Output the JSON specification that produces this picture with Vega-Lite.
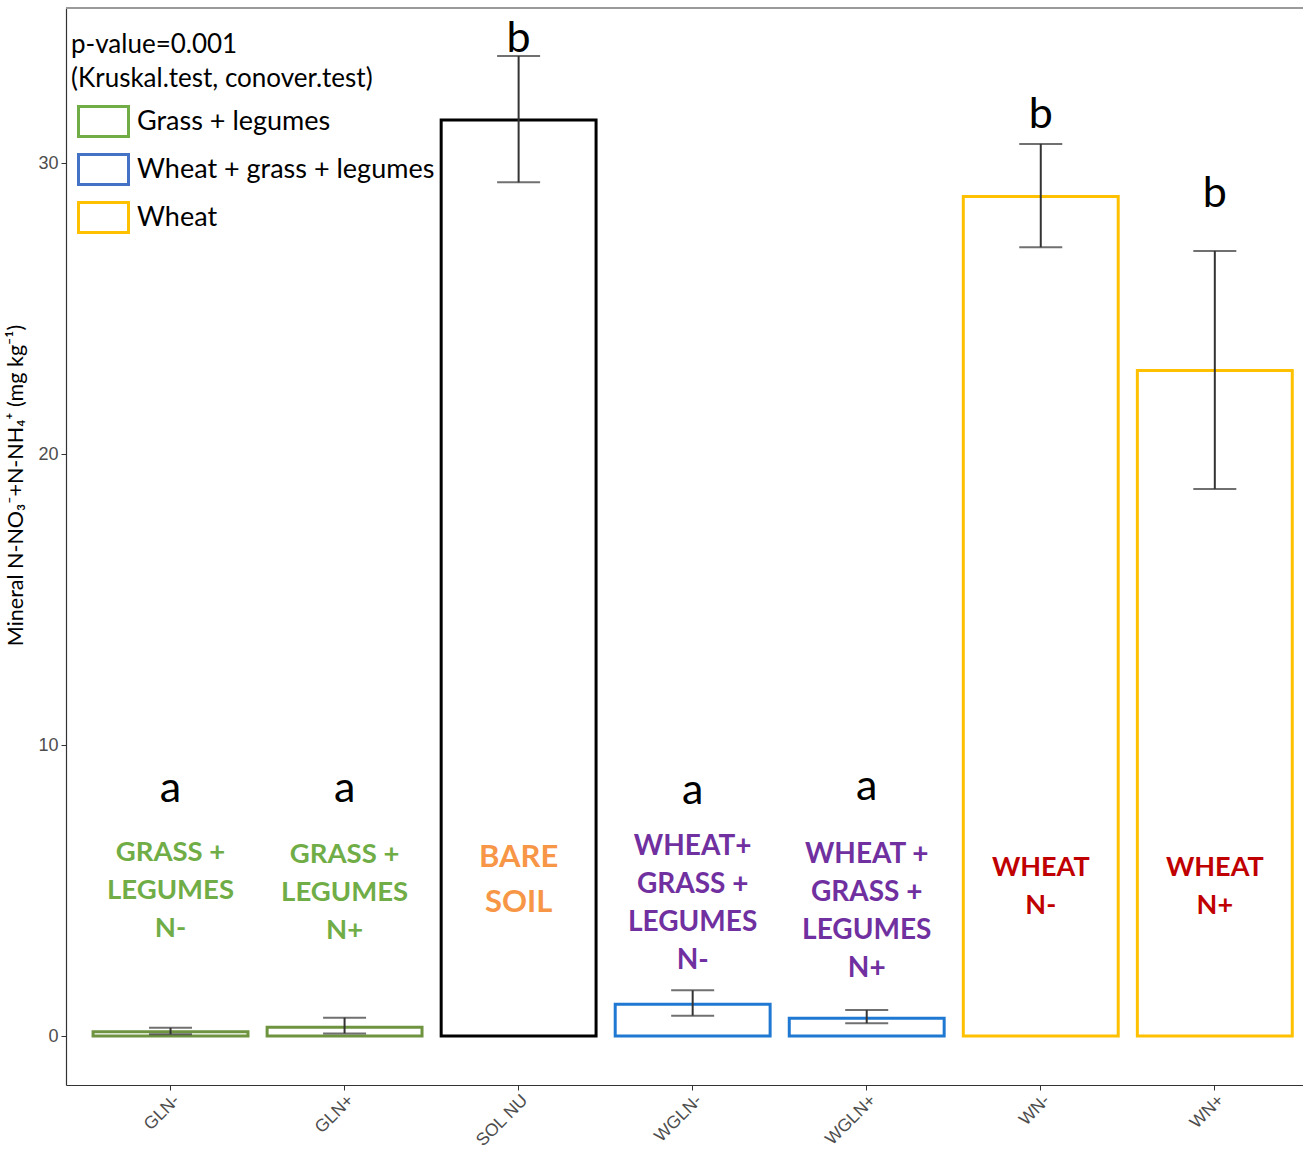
{
  "$schema": "https://vega.github.io/schema/vega-lite/v6.json",
  "width": 1237,
  "height": 1077,
  "autosize": {"type": "none"},
  "padding": {"left": 66, "top": 8, "right": 0, "bottom": 66},
  "config": {
    "view": {"stroke": null},
    "font": "Lato",
    "axisY": {
      "grid": false, "tickCount": 4,
      "labelFontSize": 18, "labelColor": "#4d4d4d", "labelFont": "Liberation Sans",
      "tickSize": 5, "tickColor": "#333333", "domainColor": "#333333", "domainWidth": 1.2, "labelPadding": 3,
      "titleFont": "Lato", "titleFontSize": 21.5, "titleFontWeight": "normal", "titleColor": "black",
      "titleY": 477, "titlePadding": 10
    },
    "axisX": {
      "labelAngle": -45, "labelAlign": "right", "labelBaseline": "top",
      "labelFontSize": 17.5, "labelColor": "#4d4d4d", "labelFont": "Liberation Sans",
      "tickSize": 5, "tickColor": "#333333", "domainColor": "#333333", "domainWidth": 1.2, "labelPadding": 1
    }
  },
  "data": {
    "values": [
      {"cat": "GLN-", "mean": 0.15, "lo": 0.06, "hi": 0.28, "letter": "a", "letterY": 8.05, "system": "GL", "sysName": "Grass + legumes", "label": "GRASS +\nLEGUMES\nN-", "labelY": 6.01},
      {"cat": "GLN+", "mean": 0.3, "lo": 0.09, "hi": 0.63, "letter": "a", "letterY": 8.05, "system": "GL", "sysName": "Grass + legumes", "label": "GRASS +\nLEGUMES\nN+", "labelY": 5.96},
      {"cat": "SOL NU", "mean": 31.48, "lo": 29.34, "hi": 33.68, "letter": "b", "letterY": 33.81, "system": "SOIL", "sysName": "Bare soil", "label": "BARE\nSOIL", "labelY": 5.82},
      {"cat": "WGLN-", "mean": 1.09, "lo": 0.7, "hi": 1.57, "letter": "a", "letterY": 7.97, "system": "WGL", "sysName": "Wheat + grass + legumes", "label": "WHEAT+\nGRASS +\nLEGUMES\nN-", "labelY": 6.22},
      {"cat": "WGLN+", "mean": 0.61, "lo": 0.44, "hi": 0.89, "letter": "a", "letterY": 8.11, "system": "WGL", "sysName": "Wheat + grass + legumes", "label": "WHEAT +\nGRASS +\nLEGUMES\nN+", "labelY": 5.94},
      {"cat": "WN-", "mean": 28.85, "lo": 27.11, "hi": 30.66, "letter": "b", "letterY": 31.2, "system": "W", "sysName": "Wheat", "label": "WHEAT\nN-", "labelY": 5.5},
      {"cat": "WN+", "mean": 22.87, "lo": 18.8, "hi": 26.98, "letter": "b", "letterY": 28.5, "system": "W", "sysName": "Wheat", "label": "WHEAT\nN+", "labelY": 5.5}
    ]
  },
  "encoding": {
    "x": {
      "field": "cat", "type": "nominal", "sort": null, "title": null,
      "scale": {"paddingInner": 0.11, "paddingOuter": 0.1086, "align": 0.716}
    }
  },
  "layer": [
    {
      "mark": {"type": "bar", "fillOpacity": 0, "strokeWidth": 3},
      "encoding": {
        "y": {
          "field": "mean", "type": "quantitative", "title": "Mineral N-NO₃⁻+N-NH₄⁺  (mg kg⁻¹)",
          "scale": {"domain": [-1.684, 35.33], "nice": false, "zero": false}
        },
        "y2": {"datum": 0},
        "stroke": {
          "field": "system", "type": "nominal",
          "scale": {"domain": ["GL", "WGL", "SOIL", "W"], "range": ["#6E9440", "#1F78D2", "#000000", "#FFC000"]},
          "legend": null
        }
      }
    },
    {
      "mark": {"type": "rule", "color": "#9a9a9a", "strokeWidth": 1.5},
      "encoding": {
        "x": {"value": 0},
        "x2": {"value": 1237},
        "y": {"datum": 35.33, "type": "quantitative", "title": "Mineral N-NO₃⁻+N-NH₄⁺  (mg kg⁻¹)", "scale": {"domain": [-1.684, 35.33], "nice": false, "zero": false}}
      }
    },
    {
      "transform": [{"filter": "datum.system != 'SOIL'"}],
      "mark": {"type": "point", "filled": false, "opacity": 0},
      "encoding": {
        "y": {"field": "mean", "type": "quantitative", "title": "Mineral N-NO₃⁻+N-NH₄⁺  (mg kg⁻¹)", "scale": {"domain": [-1.684, 35.33], "nice": false, "zero": false}},
        "color": {
          "field": "sysName", "type": "nominal",
          "scale": {"domain": ["Grass + legumes", "Wheat + grass + legumes", "Wheat"], "range": ["#70AD47", "#4472C4", "#FFC000"]},
          "legend": {
            "title": ["p-value=0.001", "(Kruskal.test, conover.test)"],
            "orient": "none", "legendX": 5, "legendY": 24,
            "titleFont": "Lato", "titleFontSize": 26, "titleFontWeight": "normal", "titleColor": "black",
            "titleLineHeight": 34, "titlePadding": 3, "titleAnchor": "start", "titleLimit": 700,
            "labelFont": "Lato", "labelFontSize": 27, "labelColor": "black", "labelOffset": 7, "labelLimit": 500,
            "symbolType": "M-1,-0.6H1V0.6H-1Z", "symbolSize": 2500, "symbolStrokeWidth": 3,
            "symbolFillColor": "transparent", "symbolOpacity": 1, "symbolOffset": 6,
            "rowPadding": -3, "padding": 0
          }
        }
      }
    },
    {
      "mark": {"type": "rule", "color": "#333333", "strokeWidth": 2},
      "encoding": {
        "y": {"field": "lo", "type": "quantitative", "title": "Mineral N-NO₃⁻+N-NH₄⁺  (mg kg⁻¹)", "scale": {"domain": [-1.684, 35.33], "nice": false, "zero": false}},
        "y2": {"field": "hi"}
      }
    },
    {
      "mark": {"type": "tick", "color": "#333333", "size": 43, "thickness": 2},
      "encoding": {
        "y": {"field": "lo", "type": "quantitative", "title": "Mineral N-NO₃⁻+N-NH₄⁺  (mg kg⁻¹)", "scale": {"domain": [-1.684, 35.33], "nice": false, "zero": false}}
      }
    },
    {
      "mark": {"type": "tick", "color": "#333333", "size": 43, "thickness": 2},
      "encoding": {
        "y": {"field": "hi", "type": "quantitative", "title": "Mineral N-NO₃⁻+N-NH₄⁺  (mg kg⁻¹)", "scale": {"domain": [-1.684, 35.33], "nice": false, "zero": false}}
      }
    },
    {
      "mark": {"type": "text", "font": "Lato", "fontSize": 43, "color": "black", "baseline": "alphabetic", "align": "center"},
      "encoding": {
        "y": {"field": "letterY", "type": "quantitative", "title": "Mineral N-NO₃⁻+N-NH₄⁺  (mg kg⁻¹)", "scale": {"domain": [-1.684, 35.33], "nice": false, "zero": false}},
        "text": {"field": "letter"}
      }
    },
    {
      "transform": [{"filter": "datum.system == 'GL'"}],
      "mark": {"type": "text", "font": "Lato", "fontWeight": "bold", "fontSize": 27.5, "color": "#70AD47", "baseline": "alphabetic", "align": "center", "lineBreak": "\n", "lineHeight": 38},
      "encoding": {
        "y": {"field": "labelY", "type": "quantitative", "title": "Mineral N-NO₃⁻+N-NH₄⁺  (mg kg⁻¹)", "scale": {"domain": [-1.684, 35.33], "nice": false, "zero": false}},
        "text": {"field": "label"}
      }
    },
    {
      "transform": [{"filter": "datum.system == 'WGL'"}],
      "mark": {"type": "text", "font": "Lato", "fontWeight": "bold", "fontSize": 28, "color": "#7030A0", "baseline": "alphabetic", "align": "center", "lineBreak": "\n", "lineHeight": 38},
      "encoding": {
        "y": {"field": "labelY", "type": "quantitative", "title": "Mineral N-NO₃⁻+N-NH₄⁺  (mg kg⁻¹)", "scale": {"domain": [-1.684, 35.33], "nice": false, "zero": false}},
        "text": {"field": "label"}
      }
    },
    {
      "transform": [{"filter": "datum.system == 'W'"}],
      "mark": {"type": "text", "font": "Lato", "fontWeight": "bold", "fontSize": 27, "color": "#C00000", "baseline": "alphabetic", "align": "center", "lineBreak": "\n", "lineHeight": 38},
      "encoding": {
        "y": {"field": "labelY", "type": "quantitative", "title": "Mineral N-NO₃⁻+N-NH₄⁺  (mg kg⁻¹)", "scale": {"domain": [-1.684, 35.33], "nice": false, "zero": false}},
        "text": {"field": "label"}
      }
    },
    {
      "transform": [{"filter": "datum.system == 'SOIL'"}],
      "mark": {"type": "text", "font": "Lato", "fontWeight": "bold", "fontSize": 31, "color": "#F79646", "baseline": "alphabetic", "align": "center", "lineBreak": "\n", "lineHeight": 45},
      "encoding": {
        "y": {"field": "labelY", "type": "quantitative", "title": "Mineral N-NO₃⁻+N-NH₄⁺  (mg kg⁻¹)", "scale": {"domain": [-1.684, 35.33], "nice": false, "zero": false}},
        "text": {"field": "label"}
      }
    }
  ]
}
